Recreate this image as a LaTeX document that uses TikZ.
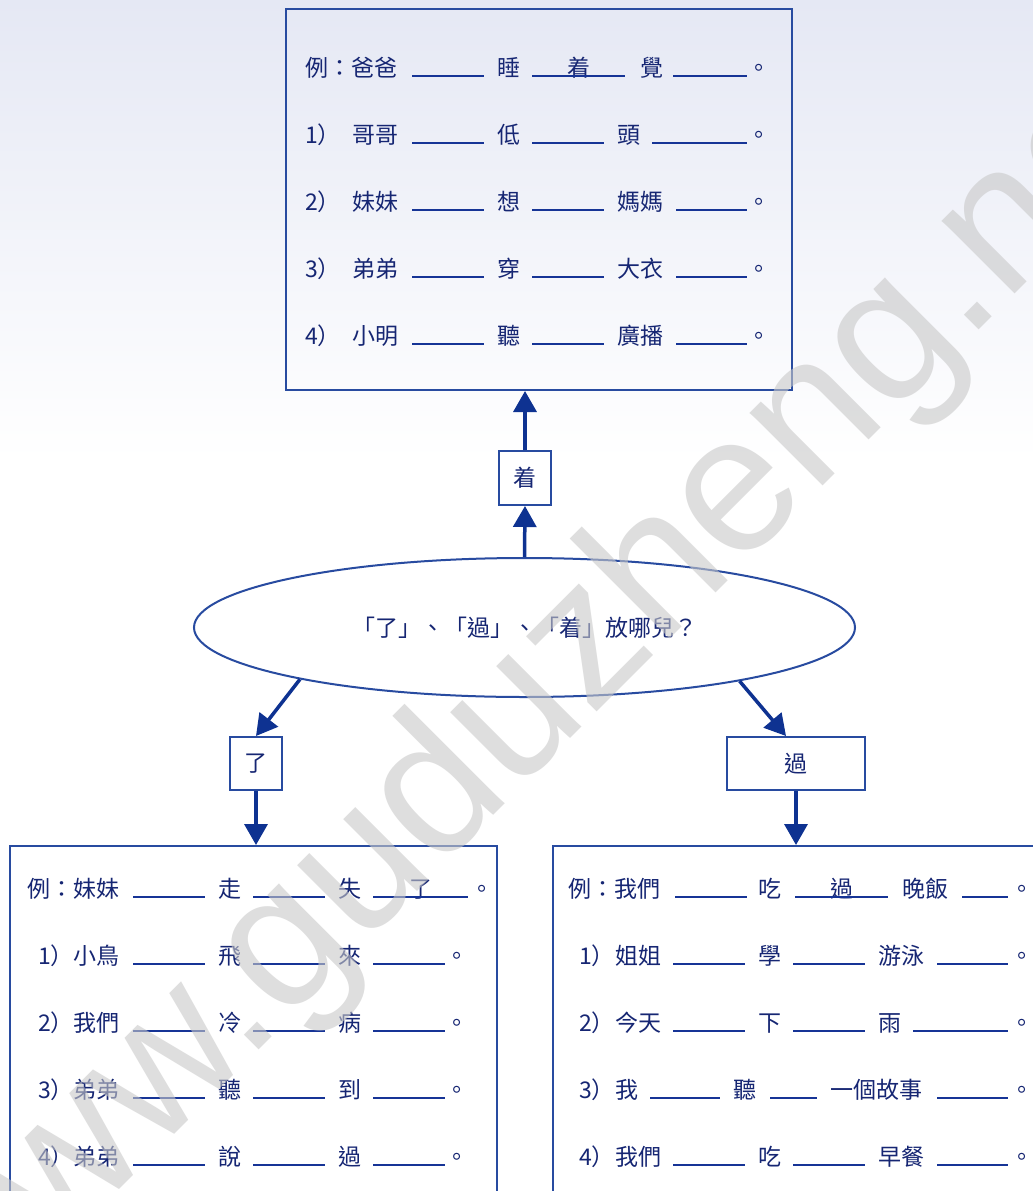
\documentclass[tikz,border=0pt]{standalone}
\usepackage{fontspec}
\setmainfont{Noto Sans CJK TC}
\newfontfamily\wmfont{Liberation Sans}
\usetikzlibrary{arrows.meta,shapes.geometric}
\definecolor{boxc}{RGB}{40,75,160}
\definecolor{arrc}{RGB}{14,50,145}
\definecolor{linec}{RGB}{22,52,150}
\definecolor{txtc}{RGB}{22,38,115}
\definecolor{skyc}{RGB}{229,232,244}
\definecolor{wmc}{RGB}{200,200,200}
\tikzset{
  wtxt/.style={anchor=base west, inner sep=0pt, text=txtc, font=\fontsize{23}{23}\selectfont},
  blankline/.style={draw=linec, line width=2pt},
  framebox/.style={draw=boxc, line width=2pt, inner sep=0pt},
  tagbox/.style={draw=boxc, line width=2pt, inner sep=0pt, fill=white, text=txtc, font=\fontsize{23}{23}\selectfont},
  arr/.style={draw=arrc, line width=3.5pt, -{Triangle[width=23pt,length=21pt]}},
}
\newcommand\mkrow[3]{\foreach[count=\i] \x/\t in {#3} {\node[wtxt] (#1-\i) at (\x,#2) {\t};}}
\newcommand\mkblanks[2]{\foreach \a/\b in {#2} {\draw[blankline] (\a,#1) -- (\b,#1);}}
\begin{document}
\begin{tikzpicture}[x=1pt,y=-1pt]
\useasboundingbox (0,0) rectangle (1033,1191);
\fill[white] (0,0) rectangle (1033,1191);
\shade[top color=skyc, bottom color=white] (0,0) rectangle (1033,460);

% frames
\node[framebox, minimum width=506, minimum height=381] (topbox) at (539,199.5) {};
\node[framebox, minimum width=487, minimum height=354] (leftbox) at (253.5,1023) {};
\node[framebox, minimum width=492, minimum height=354] (rightbox) at (799,1023) {};

% centre
\node[ellipse, draw=boxc, line width=2pt, minimum width=661, minimum height=139, inner sep=0pt,
      text=txtc, font=\fontsize{23}{23}\selectfont] (ell) at (524.5,627.5) {「了」、「過」、「着」放哪兒？};
\node[tagbox, minimum width=52, minimum height=54] (zhe) at (525,478) {着};
\node[tagbox, minimum width=52, minimum height=53] (le) at (256,763.5) {了};
\node[tagbox, minimum width=138, minimum height=53] (guo) at (796,763.5) {過};

\draw[arr] (ell.north) -- (zhe.south);
\draw[arr] (zhe.north) -- (zhe.north |- topbox.south);
\draw[arr] (ell.193) -- (le.north);
\draw[arr] (ell.346.5) -- ([xshift=-10pt]guo.north);
\draw[arr] (le.south) -- (le.south |- leftbox.north);
\draw[arr] (guo.south) -- (guo.south |- rightbox.north);

% top box rows
\mkrow{ta}{76}{305/例：爸爸,497/睡,567/着,640/覺,747/。}
\mkblanks{76}{412/484,532/625,673/747}
\mkrow{tb}{143}{305/1）,352/哥哥,497/低,617/頭,747/。}
\mkblanks{143}{412/484,532/604,652/747}
\mkrow{tc}{210}{305/2）,352/妹妹,497/想,617/媽媽,747/。}
\mkblanks{210}{412/484,532/604,676/747}
\mkrow{td}{277}{305/3）,352/弟弟,497/穿,617/大衣,747/。}
\mkblanks{277}{412/484,532/604,676/747}
\mkrow{te}{344}{305/4）,352/小明,497/聽,617/廣播,747/。}
\mkblanks{344}{412/484,532/604,676/747}

% left box rows
\mkrow{la}{897}{27/例：妹妹,218/走,338/失,409/了,470.5/。}
\mkblanks{897}{133/205,253/325,373/468}
\mkrow{lb}{964}{38/1）,73/小鳥,218/飛,338/來,445.5/。}
\mkblanks{964}{133/205,253/325,373/445}
\mkrow{lc}{1031}{38/2）,73/我們,218/冷,338/病,445.5/。}
\mkblanks{1031}{133/205,253/325,373/445}
\mkrow{ld}{1098}{38/3）,73/弟弟,218/聽,338/到,445.5/。}
\mkblanks{1098}{133/205,253/325,373/445}
\mkrow{le}{1165}{38/4）,73/弟弟,218/說,338/過,445.5/。}
\mkblanks{1165}{133/205,253/325,373/445}

% right box rows
\mkrow{ra}{897}{568/例：我們,758/吃,830/過,902/晚飯,1010.5/。}
\mkblanks{897}{675/747,795/888,962/1008}
\mkrow{rb}{964}{579/1）,615/姐姐,758/學,878/游泳,1010.5/。}
\mkblanks{964}{673/745,793/865,937/1008}
\mkrow{rc}{1031}{579/2）,615/今天,758/下,878/雨,1010.5/。}
\mkblanks{1031}{673/745,793/865,913/1008}
\mkrow{rd}{1098}{579/3）,615/我,733/聽,830/一個故事,1010.5/。}
\mkblanks{1098}{650/720,770/817,937/1008}
\mkrow{re}{1165}{579/4）,615/我們,758/吃,878/早餐,1010.5/。}
\mkblanks{1165}{673/745,793/865,937/1008}

% watermark
\node[rotate=45, anchor=base west, inner sep=0pt, text=wmc, opacity=0.6,
      font=\wmfont\fontsize{195}{195}\selectfont] (wm) at (-45,1354) {www.guduzheng.net};
\end{tikzpicture}
\end{document}
